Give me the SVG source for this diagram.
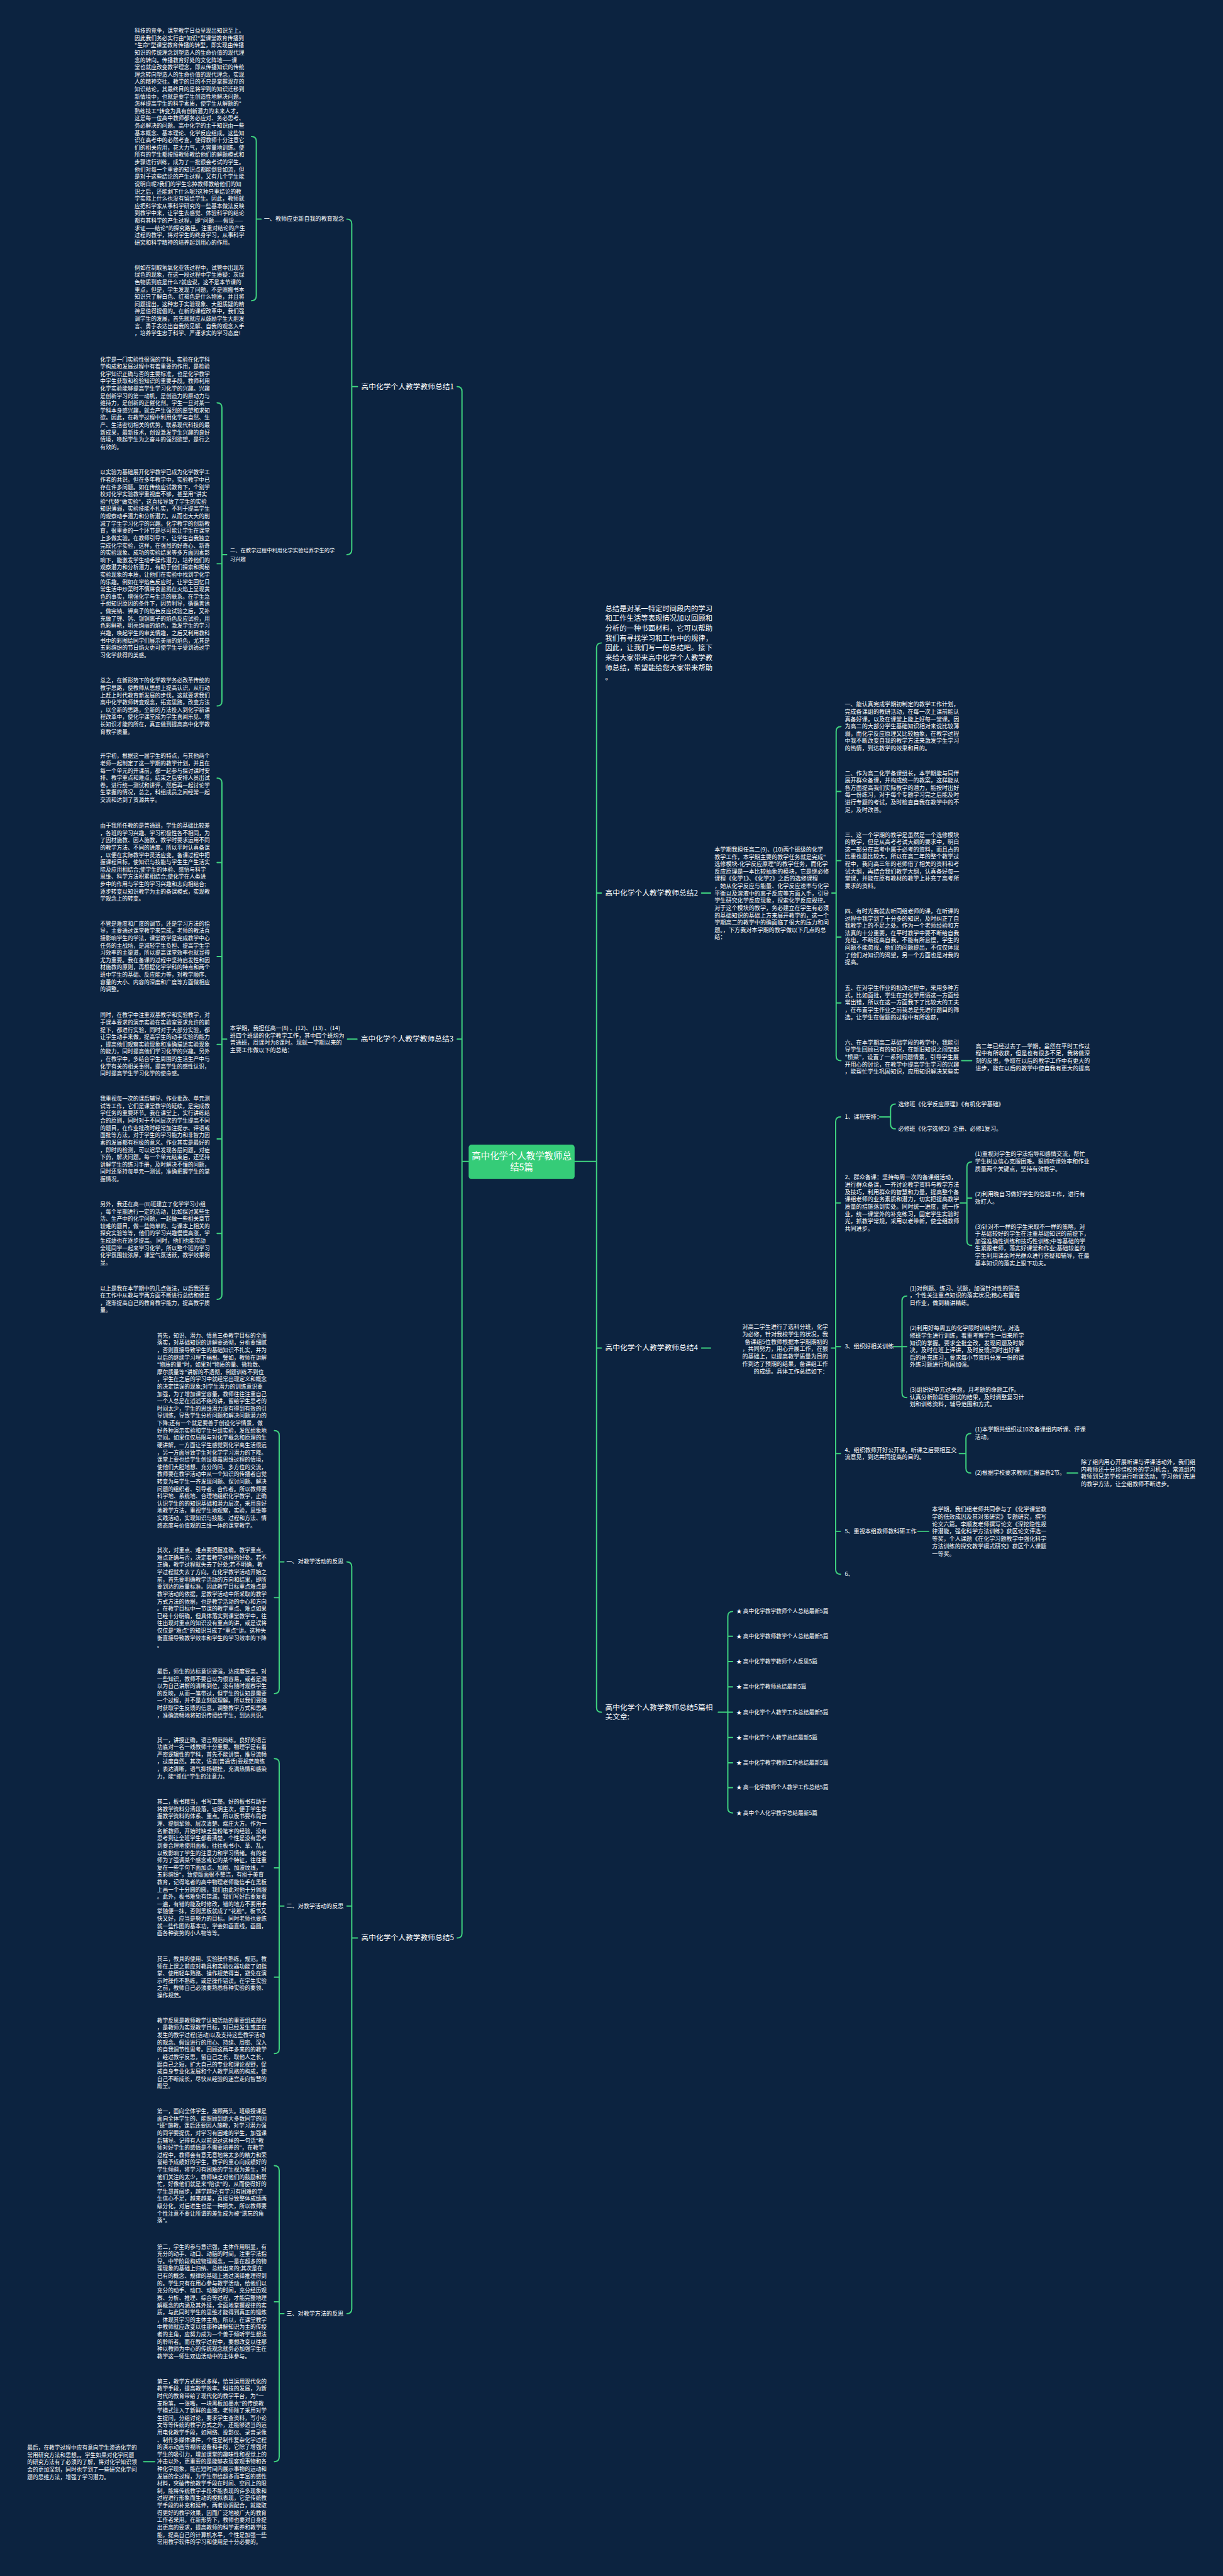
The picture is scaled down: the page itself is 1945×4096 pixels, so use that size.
<svg xmlns="http://www.w3.org/2000/svg" width="1945" height="4096" viewBox="0 0 1945 4096">
<style>
text{font-family:"Noto Sans CJK SC","Noto Sans",sans-serif;fill:#ffffff}
.p{font-size:11.5px}
.r{font-size:12px}
.b{font-size:15.5px}
.s{font-size:12px}
.i{font-size:15px}
.k{font-size:11.5px}
.c{font-size:19px;fill:#ffffff}
.ln{fill:none;stroke:#3fd27f;stroke-width:2.6;stroke-linecap:round}
</style>
<rect width="1945" height="4096" fill="#0c2340"/>
<g transform="scale(0.759)">
<g id="connectors">
<path class="ln" d="M958,810 Q968,810 968,820 V4050 Q968,4060 958,4060 M958,2177 H968 M968,2433 H982"/>
<path class="ln" d="M727,459 Q737,459 737,469 V1152 Q737,1162 727,1162 M737,810 H749"/>
<path class="ln" d="M527,286 Q537,286 537,296 V620 Q537,630 527,630 M537,459 H547"/>
<path class="ln" d="M455,844 Q465,844 465,854 V1469 Q465,1479 455,1479 M455,1181 H465 M465,1162 H475"/>
<path class="ln" d="M455,1630 Q465,1630 465,1640 V2712 Q465,2722 455,2722 M455,1807 H465 M455,2004 H465 M455,2188 H465 M455,2386 H465 M455,2584 H465 M465,2177 H475 M728,2177 H748"/>
<path class="ln" d="M727,3272 Q737,3272 737,3282 V4837 Q737,4847 727,4847 M727,3993 H737 M737,4060 H749"/>
<path class="ln" d="M575,2997 Q585,2997 585,3007 V3538 Q585,3548 575,3548 M575,3347 H585 M585,3272 H595"/>
<path class="ln" d="M575,3684 Q585,3684 585,3694 V4292 Q585,4302 575,4302 M575,3913 H585 M575,4142 H585 M585,3993 H595"/>
<path class="ln" d="M575,4537 Q585,4537 585,4547 V5147 Q585,5157 575,5157 M575,4822 H585 M585,4847 H595 M301,5157 H324"/>
<path class="ln" d="M1260,1347 Q1250,1347 1250,1357 V3577 Q1250,3587 1260,3587 M1250,1871 H1260 M1250,2824 H1260 M1204,2433 H1250"/>
<path class="ln" d="M1470,1871 H1489 M1743,1871 H1752 M1762,1522 Q1752,1522 1752,1532 V2212 Q1752,2222 1762,2222 M1752,1658 H1762 M1752,1803 H1762 M1752,1963 H1762 M1752,2101 H1762 M2015,2222 H2036"/>
<path class="ln" d="M1470,2824 H1489 M1742,2824 H1751 M1761,2340 Q1751,2340 1751,2350 V3288 Q1751,3298 1761,3298 M1751,2520 H1761 M1751,2821 H1761 M1751,3045 H1761 M1751,3208 H1761"/>
<path class="ln" d="M1843,2340 H1866 M1876,2313 Q1866,2313 1866,2323 V2355 Q1866,2365 1876,2365"/>
<path class="ln" d="M2012,2520 H2026 M2036,2434 Q2026,2434 2026,2444 V2599 Q2026,2609 2036,2609 M2026,2510 H2036"/>
<path class="ln" d="M1872,2821 H1890 M1900,2715 Q1890,2715 1890,2725 V2918 Q1890,2928 1900,2928 M1890,2821 H1900"/>
<path class="ln" d="M2010,3045 H2024 M2034,3003 Q2024,3003 2024,3013 V3076 Q2024,3086 2034,3086 M2236,3086 H2258"/>
<path class="ln" d="M1923,3208 H1946"/>
<path class="ln" d="M1505,3587 H1525 M1535,3376 Q1525,3376 1525,3386 V3788 Q1525,3798 1535,3798 M1525,3428 H1535 M1525,3481 H1535 M1525,3534 H1535 M1525,3587 H1535 M1525,3640 H1535 M1525,3693 H1535 M1525,3745 H1535"/>
</g>

<g id="center">
<rect x="982" y="2398" width="222" height="72" rx="6" fill="#35cc78"/>
<text class="c" x="1093" y="2428" text-anchor="middle"><tspan x="1093">高中化学个人教学教师总</tspan><tspan x="1093" dy="24">结5篇</tspan></text>
</g>

<g id="intro">
<text class="i" x="1268" y="1280"><tspan x="1268">总结是对某一特定时间段内的学习</tspan><tspan x="1268" dy="20.7">和工作生活等表现情况加以回顾和</tspan><tspan x="1268" dy="20.7">分析的一种书面材料，它可以帮助</tspan><tspan x="1268" dy="20.7">我们有寻找学习和工作中的规律，</tspan><tspan x="1268" dy="20.7">因此，让我们写一份总结吧。接下</tspan><tspan x="1268" dy="20.7">来给大家带来高中化学个人教学教</tspan><tspan x="1268" dy="20.7">师总结，希望能给您大家带来帮助</tspan><tspan x="1268" dy="20.7">。</tspan></text>
</g>

<g id="branch1">
<text class="b" x="757" y="815">高中化学个人教学教师总结1</text>
</g>
<g id="b1-sub1">
<text class="s" x="553" y="463">一、教师应更新自我的教育观念</text>
</g>
<g id="b1-sub1-a">
<text class="p" x="282" y="68.6"><tspan x="282">科技的竞争，课堂教学日益呈现出知识至上。</tspan><tspan x="282" dy="15.3">因此我们务必实行由"知识"型课堂教育传播到</tspan><tspan x="282" dy="15.3">"生命"型课堂教育传播的转型，即实现由传播</tspan><tspan x="282" dy="15.3">知识的传统理念到塑造人的生命价值的现代理</tspan><tspan x="282" dy="15.3">念的转向。传播教育好处的文化阵地——课</tspan><tspan x="282" dy="15.3">堂也就应改变教学理念，即从传播知识的传统</tspan><tspan x="282" dy="15.3">理念转向塑造人的生命价值的现代理念，实现</tspan><tspan x="282" dy="15.3">人的精神交往。教学的目的不只是掌握现存的</tspan><tspan x="282" dy="15.3">知识结论，其最终目的是将学到的知识迁移到</tspan><tspan x="282" dy="15.3">新情境中，也就是要学生创造性地解决问题。</tspan><tspan x="282" dy="15.3">怎样提高学生的科学素质，使学生从解题的"</tspan><tspan x="282" dy="15.3">熟练技工"转变为具有创新潜力的未来人才，</tspan><tspan x="282" dy="15.3">这是每一位高中教师都务必应对、务必思考、</tspan><tspan x="282" dy="15.3">务必解决的问题。高中化学的主干知识由一些</tspan><tspan x="282" dy="15.3">基本概念、基本理论、化学反应组成。这些知</tspan><tspan x="282" dy="15.3">识在高考中的必然考查，使得教师十分注意它</tspan><tspan x="282" dy="15.3">们的相关应用，花大力气，大容量地训练。使</tspan><tspan x="282" dy="15.3">所有的学生都按照教师教给他们的解题模式和</tspan><tspan x="282" dy="15.3">步骤进行训练，成为了一批很会考试的学生。</tspan><tspan x="282" dy="15.3">他们对每一个重要的知识点都能倒背如流，但</tspan><tspan x="282" dy="15.3">是对于这些结论的产生过程，又有几个学生能</tspan><tspan x="282" dy="15.3">说明白呢?我们的学生忘掉教师教给他们的知</tspan><tspan x="282" dy="15.3">识之后，还能剩下什么呢?这种只重结论的教</tspan><tspan x="282" dy="15.3">学实际上什么也没有留给学生。因此，教师就</tspan><tspan x="282" dy="15.3">应把科学家从事科学研究的一些基本做法反映</tspan><tspan x="282" dy="15.3">到教学中来，让学生去感觉、体验科学的结论</tspan><tspan x="282" dy="15.3">都有其科学的产生过程，即"问题——假设——</tspan><tspan x="282" dy="15.3">求证——结论"的探究路径。注重对结论的产生</tspan><tspan x="282" dy="15.3">过程的教学，将对学生的终身学习，从事科学</tspan><tspan x="282" dy="15.3">研究和科学精神的培养起到用心的作用。</tspan></text>
</g>
<g id="b1-sub1-b">
<text class="p" x="282" y="565"><tspan x="282">例如在制取氢氧化亚铁过程中，试管中出现灰</tspan><tspan x="282" dy="15.3">绿色的现象，在这一段过程中学生质疑：灰绿</tspan><tspan x="282" dy="15.3">色物质到底是什么?就应说，这不是本节课的</tspan><tspan x="282" dy="15.3">重点，但是，学生发现了问题，不是照搬书本</tspan><tspan x="282" dy="15.3">知识只了解白色、红褐色是什么物质，并且将</tspan><tspan x="282" dy="15.3">问题提出，这种忠于实验现象、大胆质疑的精</tspan><tspan x="282" dy="15.3">神是值得提倡的。在新的课程改革中，我们强</tspan><tspan x="282" dy="15.3">调学生的发展，首先就就应从鼓励学生大胆发</tspan><tspan x="282" dy="15.3">言、勇于表达出自我的见解、自我的观念入手</tspan><tspan x="282" dy="15.3">，培养学生忠于科学、严谨求实的学习态度!</tspan></text>
</g>
<g id="b1-sub2">
<text class="s" x="482" y="1157" style="font-size:11px"><tspan x="482">二、在教学过程中利用化学实验培养学生的学</tspan><tspan x="482" dy="18">习兴趣</tspan></text>
</g>
<g id="b1-sub2-a">
<text class="p" x="210" y="757"><tspan x="210">化学是一门实验性很强的学科，实验在化学科</tspan><tspan x="210" dy="15.3">学构成和发展过程中有着重要的作用，是检验</tspan><tspan x="210" dy="15.3">化学知识正确与否的主要标准，也是化学教学</tspan><tspan x="210" dy="15.3">中学生获取和检验知识的重要手段。教师利用</tspan><tspan x="210" dy="15.3">化学实验能够提高学生学习化学的兴趣。兴趣</tspan><tspan x="210" dy="15.3">是创新学习的第一动机，是创造力的原动力与</tspan><tspan x="210" dy="15.3">维持力，是创新的正催化剂。学生一旦对某一</tspan><tspan x="210" dy="15.3">学科本身感兴趣，就会产生强烈的愿望和求知</tspan><tspan x="210" dy="15.3">欲。因此，在教学过程中利用化学与自然、生</tspan><tspan x="210" dy="15.3">产、生活密切相关的优势，联系现代科技的最</tspan><tspan x="210" dy="15.3">新成果，最新技术，创设激发学生兴趣的良好</tspan><tspan x="210" dy="15.3">情境，唤起学生为之奋斗的强烈欲望，是行之</tspan><tspan x="210" dy="15.3">有效的。</tspan></text>
</g>
<g id="b1-sub2-b">
<text class="p" x="210" y="994"><tspan x="210">以实验为基础展开化学教学已成为化学教学工</tspan><tspan x="210" dy="15.3">作者的共识。但在多年教学中，实验教学中已</tspan><tspan x="210" dy="15.3">存在许多问题。如在传统应试教育下，个别学</tspan><tspan x="210" dy="15.3">校对化学实验教学重视度不够，甚至用"讲实</tspan><tspan x="210" dy="15.3">验"代替"做实验"，这直接导致了学生的实验</tspan><tspan x="210" dy="15.3">知识薄弱，实验技能不扎实，不利于提高学生</tspan><tspan x="210" dy="15.3">的观察动手潜力和分析潜力。从而也大大的削</tspan><tspan x="210" dy="15.3">减了学生学习化学的兴趣。化学教学的创新教</tspan><tspan x="210" dy="15.3">育，很重要的一个环节是尽可能让学生在课堂</tspan><tspan x="210" dy="15.3">上多做实验。在教师引导下，让学生自我独立</tspan><tspan x="210" dy="15.3">完成化学实验，这样，在强烈的好奇心、新奇</tspan><tspan x="210" dy="15.3">的实验现象、成功的实验结果等多方面因素影</tspan><tspan x="210" dy="15.3">响下，能激发学生动手操作潜力，培养他们的</tspan><tspan x="210" dy="15.3">观察潜力和分析潜力，有助于他们探索和揭秘</tspan><tspan x="210" dy="15.3">实验现象的本质，让他们在实验中找到学化学</tspan><tspan x="210" dy="15.3">的乐趣。例如在学焰色反应时，让学生回忆日</tspan><tspan x="210" dy="15.3">常生活中炒菜时不慎将食盐溅在火焰上呈现黄</tspan><tspan x="210" dy="15.3">色的事实，增强化学与生活的联系。在学生急</tspan><tspan x="210" dy="15.3">于想知识原因的条件下，因势利导，循循善诱</tspan><tspan x="210" dy="15.3">。做完钠、钾离子的焰色反应试验之后，又补</tspan><tspan x="210" dy="15.3">充做了锂、钙、钡铜离子的焰色反应试验，用</tspan><tspan x="210" dy="15.3">色彩鲜艳，明亮绚丽的焰色，激发学生的学习</tspan><tspan x="210" dy="15.3">兴趣，唤起学生的审美情趣，之后又利用教科</tspan><tspan x="210" dy="15.3">书中的彩图给同学们展示美丽的焰色，尤其是</tspan><tspan x="210" dy="15.3">五彩缤纷的节日焰火更可使学生享受到透过学</tspan><tspan x="210" dy="15.3">习化学获得的美感。</tspan></text>
</g>
<g id="b1-sub2-c">
<text class="p" x="210" y="1430"><tspan x="210">总之，在新形势下的化学教学务必改革传统的</tspan><tspan x="210" dy="15.3">教学思路，使教师从思想上提高认识，从行动</tspan><tspan x="210" dy="15.3">上赶上时代教育新发展的步伐，这就要求我们</tspan><tspan x="210" dy="15.3">高中化学教师转变观念，拓宽思路，改变方法</tspan><tspan x="210" dy="15.3">，以全新的思路，全新的方法投入到化学新课</tspan><tspan x="210" dy="15.3">程改革中，使化学课堂成为学生喜闻乐见、增</tspan><tspan x="210" dy="15.3">长知识才能的所在，真正做到提高高中化学教</tspan><tspan x="210" dy="15.3">育教学质量。</tspan></text>
</g>

<g id="branch3">
<text class="b" x="756" y="2182">高中化学个人教学教师总结3</text>
</g>
<g id="b3-intro">
<text class="r" x="482" y="2158"><tspan x="482">本学期，我担任高一(8) 、(12)、 (13) 、(14)</tspan><tspan x="482" dy="15.5">班四个班级的化学教学工作，其中四个班均为</tspan><tspan x="482" dy="15.5">普通班，周课时为8课时。现就一学期以来的</tspan><tspan x="482" dy="15.5">主要工作做以下的总结：</tspan></text>
</g>
<g id="b3-a">
<text class="p" x="210" y="1588"><tspan x="210">开学初，根据这一届学生的特点，与其他两个</tspan><tspan x="210" dy="15.3">老师一起制定了这一学期的教学计划，并且在</tspan><tspan x="210" dy="15.3">每一个单元的开课前，都一起参与探讨课时安</tspan><tspan x="210" dy="15.3">排、教学重点和难点，结束之后安排人员出试</tspan><tspan x="210" dy="15.3">卷，进行统一测试和讲评，然后再一起讨论学</tspan><tspan x="210" dy="15.3">生掌握的情况，总之，科组成员之间经常一起</tspan><tspan x="210" dy="15.3">交流和达到了资源共享。</tspan></text>
</g>
<g id="b3-b">
<text class="p" x="210" y="1734"><tspan x="210">由于我所任教的是普通班，学生的基础比较差</tspan><tspan x="210" dy="15.3">，各班的学习兴趣、学习积极性各不相同，为</tspan><tspan x="210" dy="15.3">了因材施教、因人施教，教学时要求运用不同</tspan><tspan x="210" dy="15.3">的教学方法、不同的进度。所以平时认真备课</tspan><tspan x="210" dy="15.3">，以便在实际教学中灵活应变。备课过程中把</tspan><tspan x="210" dy="15.3">握课程目标，使知识与技能与学生生产生活实</tspan><tspan x="210" dy="15.3">际及应用相结合;使学生的体验、感悟与科学</tspan><tspan x="210" dy="15.3">思维、科学方法积累相结合;使化学在人类进</tspan><tspan x="210" dy="15.3">步中的作用与学生的学习兴趣和志向相结合;</tspan><tspan x="210" dy="15.3">逐步转变以知识教学为主的备课模式，实现教</tspan><tspan x="210" dy="15.3">学观念上的转变。</tspan></text>
</g>
<g id="b3-c">
<text class="p" x="210" y="1939"><tspan x="210">不管是难度和广度的调节，还是学习方法的指</tspan><tspan x="210" dy="15.3">导，主要通过课堂教学来完成，老师的教法直</tspan><tspan x="210" dy="15.3">接影响学生的学法，课堂教学是完成教学中心</tspan><tspan x="210" dy="15.3">任务的主战场，是减轻学生负担、提高学生学</tspan><tspan x="210" dy="15.3">习效率的主渠道，所以提高课堂效率也就显得</tspan><tspan x="210" dy="15.3">尤为重要。我在备课的过程中坚持启发性和因</tspan><tspan x="210" dy="15.3">材施教的原则，再根据化学学科的特点和两个</tspan><tspan x="210" dy="15.3">班中学生的基础、反应能力等，对教学顺序、</tspan><tspan x="210" dy="15.3">容量的大小、内容的深度和广度等方面做相应</tspan><tspan x="210" dy="15.3">的调整。</tspan></text>
</g>
<g id="b3-d">
<text class="p" x="210" y="2131"><tspan x="210">同时，在教学中注重双基教学和实验教学，对</tspan><tspan x="210" dy="15.3">于课本要求的演示实验在实验室要求允许的前</tspan><tspan x="210" dy="15.3">提下，都进行实验，同时对于大部分实验，都</tspan><tspan x="210" dy="15.3">让学生动手来做，提高学生的动手实验的能力</tspan><tspan x="210" dy="15.3">，提高他们观察实验现象和准确描述实验现象</tspan><tspan x="210" dy="15.3">的能力，同时提高他们学习化学的兴趣。另外</tspan><tspan x="210" dy="15.3">，在教学中，多结合学生周围的生活生产中与</tspan><tspan x="210" dy="15.3">化学有关的相关事例，提高学生的感性认识，</tspan><tspan x="210" dy="15.3">同时提高学生学习化学的使命感。</tspan></text>
</g>
<g id="b3-e">
<text class="p" x="210" y="2306"><tspan x="210">我重视每一次的课后辅导、作业批改、单元测</tspan><tspan x="210" dy="15.3">试等工作，它们是课堂教学的延续，是完成教</tspan><tspan x="210" dy="15.3">学任务的重要环节。我在课堂上，实行讲练结</tspan><tspan x="210" dy="15.3">合的原则，同时对于不同层次的学生提高不同</tspan><tspan x="210" dy="15.3">的题目，在作业批改时经常加注提示、评语或</tspan><tspan x="210" dy="15.3">面批等方法，对于学生的学习能力和非智力因</tspan><tspan x="210" dy="15.3">素的发展都有积极的意义。作业其实是最好的</tspan><tspan x="210" dy="15.3">，即时的检测，可以迟早发现各层问题，对症</tspan><tspan x="210" dy="15.3">下药，解决问题。每一个单元结束后，还坚持</tspan><tspan x="210" dy="15.3">讲解学生的练习手册，及时解决不懂的问题，</tspan><tspan x="210" dy="15.3">同时还坚持每单元一测试，准确把握学生的掌</tspan><tspan x="210" dy="15.3">握情况。</tspan></text>
</g>
<g id="b3-f">
<text class="p" x="210" y="2527"><tspan x="210">另外，我还在高一(8)班建立了化学学习小组</tspan><tspan x="210" dy="15.3">，每个星期进行一定的活动，比如探讨某些生</tspan><tspan x="210" dy="15.3">活、生产中的化学问题，一起做一些相关章节</tspan><tspan x="210" dy="15.3">较难的题目，做一些简单的、与课本上相关的</tspan><tspan x="210" dy="15.3">探究实验等等，他们的学习兴趣慢慢高涨，学</tspan><tspan x="210" dy="15.3">生成绩也在逐步提高。 同时，他们也能带动</tspan><tspan x="210" dy="15.3">全班同学一起来学习化学，所以整个班的学习</tspan><tspan x="210" dy="15.3">化学氛围较浓厚，课堂气氛活跃，教学效果明</tspan><tspan x="210" dy="15.3">显。</tspan></text>
</g>
<g id="b3-g">
<text class="p" x="210" y="2703"><tspan x="210">以上是我在本学期中的几点做法，以后我还要</tspan><tspan x="210" dy="15.3">在工作中从教与学两方面不断进行总结和修正</tspan><tspan x="210" dy="15.3">，逐渐提高自己的教育教学能力，提高教学质</tspan><tspan x="210" dy="15.3">量。</tspan></text>
</g>

<g id="branch5">
<text class="b" x="757" y="4065">高中化学个人教学教师总结5</text>
</g>
<g id="b5-sub1"><text class="s" x="600" y="3276">一、对教学活动的反思</text></g>
<g id="b5-sub2"><text class="s" x="600" y="3997">二、对教学活动的反思</text></g>
<g id="b5-sub3"><text class="s" x="600" y="4851">三、对教学方法的反思</text></g>
<g id="b5-a">
<text class="p" x="329" y="2802"><tspan x="329">首先，知识、潜力、情意三类教学目标的全面</tspan><tspan x="329" dy="15.3">落实，对基础知识的讲解要透彻，分析要细腻</tspan><tspan x="329" dy="15.3">，否则直接导致学生的基础知识不扎实，并为</tspan><tspan x="329" dy="15.3">以后的继续学习埋下祸根。譬如，教师在讲解</tspan><tspan x="329" dy="15.3">"物质的量"时，如果对"物质的量、微粒数、</tspan><tspan x="329" dy="15.3">摩尔质量等"讲解的不透彻，例题训练不到位</tspan><tspan x="329" dy="15.3">，学生在之后的学习中就经常出现定义和概念</tspan><tspan x="329" dy="15.3">的决定错误的现象;对学生潜力的训练意识要</tspan><tspan x="329" dy="15.3">加强，为了增加课堂容量，教师往往注重自己</tspan><tspan x="329" dy="15.3">一个人总是在滔滔不绝的讲，留给学生思考的</tspan><tspan x="329" dy="15.3">时间太少，学生的思维潜力没有得到有效的引</tspan><tspan x="329" dy="15.3">导训练，导致学生分析问题和解决问题潜力的</tspan><tspan x="329" dy="15.3">下降;还有一个就是要善于创设化学情景，做</tspan><tspan x="329" dy="15.3">好各种演示实验和学生分组实验，发挥想象地</tspan><tspan x="329" dy="15.3">空间。如果仅仅局限与对化学概念和原理的生</tspan><tspan x="329" dy="15.3">硬讲解，一方面让学生感觉到化学离生活很远</tspan><tspan x="329" dy="15.3">，另一方面导致学生对化学学习潜力的下降。</tspan><tspan x="329" dy="15.3">课堂上要也给学生创设暴露思维过程的情境，</tspan><tspan x="329" dy="15.3">使他们大胆地想、充分的问、多方位的交流，</tspan><tspan x="329" dy="15.3">教师要在教学活动中从一个知识的传播者自觉</tspan><tspan x="329" dy="15.3">转变为与学生一齐发现问题、探讨问题、解决</tspan><tspan x="329" dy="15.3">问题的组织者、引导者、合作者。所以教师要</tspan><tspan x="329" dy="15.3">科学地、系统地、合理地组织化学教学，正确</tspan><tspan x="329" dy="15.3">认识学生的的知识基础和潜力层次，采用良好</tspan><tspan x="329" dy="15.3">地教学方法，重视学生地观察，实验，思维等</tspan><tspan x="329" dy="15.3">实践活动，实现知识与技能、过程和方法、情</tspan><tspan x="329" dy="15.3">感态度与价值观的三维一体的课堂教学。</tspan></text>
</g>
<g id="b5-b">
<text class="p" x="329" y="3252"><tspan x="329">其次，对重点、难点要把握准确。教学重点、</tspan><tspan x="329" dy="15.3">难点正确与否，决定着教学过程的好处。若不</tspan><tspan x="329" dy="15.3">正确，教学过程就失去了好处;若不明确，教</tspan><tspan x="329" dy="15.3">学过程就失去了方向。在化学教学活动开始之</tspan><tspan x="329" dy="15.3">前，首先要明确教学活动的方向和结果，即所</tspan><tspan x="329" dy="15.3">要到达的质量标准。因此教学目标重点难点是</tspan><tspan x="329" dy="15.3">教学活动的依据，是教学活动中所采取的教学</tspan><tspan x="329" dy="15.3">方式方法的依据，也是教学活动的中心和方向</tspan><tspan x="329" dy="15.3">。在教学目标中一节课的教学重点、难点如果</tspan><tspan x="329" dy="15.3">已经十分明确，但具体落实到课堂教学中，往</tspan><tspan x="329" dy="15.3">往出现对重点的知识没有重点的讲，或是误将</tspan><tspan x="329" dy="15.3">仅仅是"难点"的知识当成了"重点"讲。这种失</tspan><tspan x="329" dy="15.3">衡直接导致教学效率和学生的学习效率的下降</tspan><tspan x="329" dy="15.3">。</tspan></text>
</g>
<g id="b5-c">
<text class="p" x="329" y="3506"><tspan x="329">最后，师生的达标意识要强，达成度要高。对</tspan><tspan x="329" dy="15.3">一些知识，教师不要自以为很容易，或者是满</tspan><tspan x="329" dy="15.3">以为自己讲解的清晰到位，没有随时观察学生</tspan><tspan x="329" dy="15.3">的反映，从而一笔带过，但学生的认知是需要</tspan><tspan x="329" dy="15.3">一个过程，并不是立刻就理解。所以我们要随</tspan><tspan x="329" dy="15.3">时获取学生反馈的信息，调整教学方式和思路</tspan><tspan x="329" dy="15.3">，准确流畅地将知识传授给学生，到达共识。</tspan></text>
</g>
<g id="b5-d">
<text class="p" x="329" y="3649"><tspan x="329">其一，讲授正确，语言规范简练。良好的语言</tspan><tspan x="329" dy="15.3">功底对一名一线教师十分重要。物理学是有着</tspan><tspan x="329" dy="15.3">严密逻辑性的学科，首先不能讲错，推导流畅</tspan><tspan x="329" dy="15.3">，过度自然。其次，语言(普通话)要规范简练</tspan><tspan x="329" dy="15.3">，表达清晰，语气抑扬顿挫，充满热情和感染</tspan><tspan x="329" dy="15.3">力，能"抓住"学生的注意力。</tspan></text>
</g>
<g id="b5-e">
<text class="p" x="329" y="3779"><tspan x="329">其二，板书精当，书写工整。好的板书有助于</tspan><tspan x="329" dy="15.3">将教学资料分清段落，证明主次，便于学生掌</tspan><tspan x="329" dy="15.3">握教学资料的体系、重点。所以板书要布局合</tspan><tspan x="329" dy="15.3">理、提纲挈领、层次清楚、端庄大方。作为一</tspan><tspan x="329" dy="15.3">名新教师，开始时缺乏些粉笔字的经验，没有</tspan><tspan x="329" dy="15.3">思考到让全班学生都看清楚，个性是没有思考</tspan><tspan x="329" dy="15.3">到要合理地使用面板，往往板书小、草、乱，</tspan><tspan x="329" dy="15.3">以致影响了学生的注意力和学习情绪。有的老</tspan><tspan x="329" dy="15.3">师为了强调某个感念或它的某个特征，往往重</tspan><tspan x="329" dy="15.3">复在一些字句下面加点、加圈、加波纹线，"</tspan><tspan x="329" dy="15.3">五彩缤纷"，致使版面很不整洁，有损于美育</tspan><tspan x="329" dy="15.3">教育，记得笔者的高中物理老师能信手在黑板</tspan><tspan x="329" dy="15.3">上画一个十分圆的圆，我们由此对他十分佩服</tspan><tspan x="329" dy="15.3">。此外，板书难免有错漏，我们写好后要复看</tspan><tspan x="329" dy="15.3">一遍，有错的能及时修改，错的地方不要用手</tspan><tspan x="329" dy="15.3">掌随便一抹，否则黑板就成了"花脸"。板书又</tspan><tspan x="329" dy="15.3">快又好，应当是努力的目标。同时老师也要练</tspan><tspan x="329" dy="15.3">就一些作图的基本功，学会如画直线，画圆，</tspan><tspan x="329" dy="15.3">画各种姿势的小人物等等。</tspan></text>
</g>
<g id="b5-f">
<text class="p" x="329" y="4108"><tspan x="329">其三，教具的使用、实验操作熟练，规范。教</tspan><tspan x="329" dy="15.3">师在上课之前应对教具和实验仪器功能了如指</tspan><tspan x="329" dy="15.3">掌、使用轻车熟路、操作规范得当，避免在演</tspan><tspan x="329" dy="15.3">示时操作不熟练，或是操作错误。在学生实验</tspan><tspan x="329" dy="15.3">之前，教师自己必须要熟悉各种实验的要领、</tspan><tspan x="329" dy="15.3">操作规范。</tspan></text>
</g>
<g id="b5-g">
<text class="p" x="329" y="4237"><tspan x="329">教学反思是教师教学认知活动的重要组成部分</tspan><tspan x="329" dy="15.3">，是教师为实现教学目标，对已经发生或正在</tspan><tspan x="329" dy="15.3">发生的教学过程(活动)以及支持这些教学活动</tspan><tspan x="329" dy="15.3">的观念、假设进行的用心、持续、周密、深入</tspan><tspan x="329" dy="15.3">的自我调节性思考。回顾这两年多来的的教学</tspan><tspan x="329" dy="15.3">，经过教学反思，留自己之长，取他人之长，</tspan><tspan x="329" dy="15.3">踢自己之短，扩大自己的专业和理论视野，促</tspan><tspan x="329" dy="15.3">成自身专业化发展和个人教学风格的构成，使</tspan><tspan x="329" dy="15.3">自己不断成长，尽快从经验的迷宫走向智慧的</tspan><tspan x="329" dy="15.3">殿堂。</tspan></text>
</g>
<g id="b5-h">
<text class="p" x="329" y="4427"><tspan x="329">第一，面向全体学生，兼顾两头。班级授课是</tspan><tspan x="329" dy="15.3">面向全体学生的、能照顾到绝大多数同学的因</tspan><tspan x="329" dy="15.3">"班"施教，课后还要因人施教，对学习潜力强</tspan><tspan x="329" dy="15.3">的同学要提优，对学习有困难的学生，加强课</tspan><tspan x="329" dy="15.3">后辅导。记得有人以前说过这样的一句话"教</tspan><tspan x="329" dy="15.3">师对好学生的感情是不需要培养的"，在教学</tspan><tspan x="329" dy="15.3">过程中，教师会有意无意地将太多的精力和荣</tspan><tspan x="329" dy="15.3">誉给予成绩好的学生，教学的重心向成绩好的</tspan><tspan x="329" dy="15.3">学生倾斜，将学习有困难的学生视为差生，对</tspan><tspan x="329" dy="15.3">他们关注的太少，教师缺乏对他们的鼓励和帮</tspan><tspan x="329" dy="15.3">忙，好像他们就是来"陪读"的，从而使得好的</tspan><tspan x="329" dy="15.3">学生昂首阔步，越学越好;有学习有困难的学</tspan><tspan x="329" dy="15.3">生信心不足，越来越差，直接导致整体成绩两</tspan><tspan x="329" dy="15.3">级分化，对后进生也是一种损失，所以教师要</tspan><tspan x="329" dy="15.3">个性注意不要让所谓的差生成为被"遗忘的角</tspan><tspan x="329" dy="15.3">落"。</tspan></text>
</g>
<g id="b5-i">
<text class="p" x="329" y="4711"><tspan x="329">第二，学生的参与意识强，主体作用明显，有</tspan><tspan x="329" dy="15.3">充分的动手、动口、动脑的时间。注重学法指</tspan><tspan x="329" dy="15.3">导。中学阶段构成物理概念，一是在超多的物</tspan><tspan x="329" dy="15.3">理现象的基础上归纳、总结出来的;其次是在</tspan><tspan x="329" dy="15.3">已有的概念、规律的基础上透过演绎推理得到</tspan><tspan x="329" dy="15.3">的。学生只有在用心参与教学活动，给他们以</tspan><tspan x="329" dy="15.3">充分的动手、动口、动脑的时间，充分经历观</tspan><tspan x="329" dy="15.3">察、分析、推理、综合等过程，才能完整地理</tspan><tspan x="329" dy="15.3">解概念的内涵及其外延，全面地掌握规律的实</tspan><tspan x="329" dy="15.3">质，与此同时学生的思维才能得到真正的锻炼</tspan><tspan x="329" dy="15.3">，体现其学习的主体主角。所以，在课堂教学</tspan><tspan x="329" dy="15.3">中教师就应改变以往那种讲解知识为主的传授</tspan><tspan x="329" dy="15.3">者的主角，应努力成为一个善于倾听学生想法</tspan><tspan x="329" dy="15.3">的聆听者。而在教学过程中，要想改变以往那</tspan><tspan x="329" dy="15.3">种以教师为中心的传统观念就务必加强学生在</tspan><tspan x="329" dy="15.3">教学这一师生双边活动中的主体参与。</tspan></text>
</g>
<g id="b5-j">
<text class="p" x="329" y="4993"><tspan x="329">第三，教学方式形式多样，恰当运用现代化的</tspan><tspan x="329" dy="15.3">教学手段，提高教学效率。科技的发展，为新</tspan><tspan x="329" dy="15.3">时代的教育带给了现代化的教学平台，为"一</tspan><tspan x="329" dy="15.3">支粉笔，一张嘴，一块黑板加墨水"的传统教</tspan><tspan x="329" dy="15.3">学模式注入了新鲜的血液。老师除了采用对学</tspan><tspan x="329" dy="15.3">生提问，分组讨论，要求学生查资料，写小论</tspan><tspan x="329" dy="15.3">文等等传统的教学方式之外，还能够适当的运</tspan><tspan x="329" dy="15.3">用电化教学手段，如网络、投影仪、录音录像</tspan><tspan x="329" dy="15.3">、制作多媒体课件，个性是制作复杂化学过程</tspan><tspan x="329" dy="15.3">的演示动画等视听设备和手段，它除了增强对</tspan><tspan x="329" dy="15.3">学生的吸引力，增加课堂的趣味性和视觉上的</tspan><tspan x="329" dy="15.3">冲击以外，更重要的是能够表现客观事物和各</tspan><tspan x="329" dy="15.3">种化学现象，能在短时间内展示事物的运动和</tspan><tspan x="329" dy="15.3">发展的全过程，为学生带给超多而丰富的感性</tspan><tspan x="329" dy="15.3">材料，突破传统教学手段在时间、空间上的限</tspan><tspan x="329" dy="15.3">制，能将传统教学手段不能表现的许多现象和</tspan><tspan x="329" dy="15.3">过程进行形象而生动的模拟表现，它是传统教</tspan><tspan x="329" dy="15.3">学手段的补充和延伸，两者协调配合，就能取</tspan><tspan x="329" dy="15.3">得更好的教学效果，因而广泛地被广大的教育</tspan><tspan x="329" dy="15.3">工作者采用。在新形势下，教师也要对自身提</tspan><tspan x="329" dy="15.3">出更高的要求，提高教师的科学素养和教学技</tspan><tspan x="329" dy="15.3">能，提高自己的计算机水平，个性是加强一些</tspan><tspan x="329" dy="15.3">常用教学软件的学习和使用是十分必要的。</tspan></text>
</g>
<g id="b5-k">
<text class="p" x="57" y="5132"><tspan x="57">最后，在教学过程中应有意向学生渗透化学的</tspan><tspan x="57" dy="15.3">常用研究方法和思想。。学生如果对化学问题</tspan><tspan x="57" dy="15.3">的研究方法有了必须的了解，将对化学知识领</tspan><tspan x="57" dy="15.3">会的更加深刻，同时也学到了一些研究化学问</tspan><tspan x="57" dy="15.3">题的思维方法，增强了学习潜力。</tspan></text>
</g>

<g id="branch2">
<text class="b" x="1268" y="1876">高中化学个人教学教师总结2</text>
</g>
<g id="b2-intro">
<text class="r" x="1497" y="1784"><tspan x="1497">本学期我担任高二(9)、(10)两个班级的化学</tspan><tspan x="1497" dy="15.3">教学工作，本学期主要的教学任务就是完成"</tspan><tspan x="1497" dy="15.3">选修模块-化学反应原理"的教学任务，而化学</tspan><tspan x="1497" dy="15.3">反应原理是一本比较抽象的模块，它是继必修</tspan><tspan x="1497" dy="15.3">课程《化学1》、《化学2》之后的选修课程</tspan><tspan x="1497" dy="15.3">，她从化学反应与能量、化学反应速率与化学</tspan><tspan x="1497" dy="15.3">平衡以及溶液中的离子反应等方面入手，引导</tspan><tspan x="1497" dy="15.3">学生研究化学反应现象，探索化学反应规律。</tspan><tspan x="1497" dy="15.3">对于这个模块的教学，务必建立在学生有必须</tspan><tspan x="1497" dy="15.3">的基础知识的基础上方来展开教学的，这一个</tspan><tspan x="1497" dy="15.3">学期高二的教学中的确面临了很大的压力和问</tspan><tspan x="1497" dy="15.3">题。，下方我对本学期的教学做以下几点的总</tspan><tspan x="1497" dy="15.3">结：</tspan></text>
</g>
<g id="b2-1">
<text class="r" x="1770" y="1480"><tspan x="1770">一、能认真完成学期初制定的教学工作计划，</tspan><tspan x="1770" dy="15.3">完成备课组的教研活动，在每一次上课前能认</tspan><tspan x="1770" dy="15.3">真备好课，以及在课堂上能上好每一堂课。因</tspan><tspan x="1770" dy="15.3">为高二的大部分学生基础知识相对来说比较薄</tspan><tspan x="1770" dy="15.3">弱，而化学反应原理又比较抽象，在教学过程</tspan><tspan x="1770" dy="15.3">中我不断改变自我的教学方法来激发学生学习</tspan><tspan x="1770" dy="15.3">的热情，到达教学的效果和目的。</tspan></text>
</g>
<g id="b2-2">
<text class="r" x="1770" y="1624"><tspan x="1770">二、作为高二化学备课组长，本学期能与同伴</tspan><tspan x="1770" dy="15.3">展开群众备课，并构成统一的教案，这样能从</tspan><tspan x="1770" dy="15.3">各方面提高我们实际教学的潜力，能按时出好</tspan><tspan x="1770" dy="15.3">每一份练习，对于每个专题学习完之后能及时</tspan><tspan x="1770" dy="15.3">进行专题的考试，及时检查自我在教学中的不</tspan><tspan x="1770" dy="15.3">足，及时改善。</tspan></text>
</g>
<g id="b2-3">
<text class="r" x="1770" y="1753"><tspan x="1770">三、这一个学期的教学是虽然是一个选修模块</tspan><tspan x="1770" dy="15.3">的教学，但是从高考考试大纲的要求中，明白</tspan><tspan x="1770" dy="15.3">这一部分在高考中属于必考的资料，而且占的</tspan><tspan x="1770" dy="15.3">比重也是比较大，所以在高二年的整个教学过</tspan><tspan x="1770" dy="15.3">程中，我向高三年的老师借了相关的资料和考</tspan><tspan x="1770" dy="15.3">试大纲，再结合我们教学大纲，认真备好每一</tspan><tspan x="1770" dy="15.3">堂课，并能在原有教材的教学上补充了高考所</tspan><tspan x="1770" dy="15.3">要求的资料。</tspan></text>
</g>
<g id="b2-4">
<text class="r" x="1770" y="1913"><tspan x="1770">四、有时光我就去听同组老师的课，在听课的</tspan><tspan x="1770" dy="15.3">过程中我学到了十分多的知识，及时纠正了自</tspan><tspan x="1770" dy="15.3">我教学上的不足之处。作为一个老师经验和方</tspan><tspan x="1770" dy="15.3">法真的十分重要，在平时教学中要不断给自我</tspan><tspan x="1770" dy="15.3">充电，不断提高自我，不能有所怠慢，学生的</tspan><tspan x="1770" dy="15.3">问题不能忽视，他们的问题提出，不仅仅体现</tspan><tspan x="1770" dy="15.3">了他们对知识的渴望，另一个方面也是对我的</tspan><tspan x="1770" dy="15.3">提高。</tspan></text>
</g>
<g id="b2-5">
<text class="r" x="1770" y="2074"><tspan x="1770">五、在对学生作业的批改过程中，采用多种方</tspan><tspan x="1770" dy="15.3">式，比如面批，学生在对化学用语这一方面经</tspan><tspan x="1770" dy="15.3">常出错，所以在这一方面我下了比较大的工夫</tspan><tspan x="1770" dy="15.3">，在布置学生作业之前我总是先进行题目的筛</tspan><tspan x="1770" dy="15.3">选，让学生在做题的过程中有所收获，</tspan></text>
</g>
<g id="b2-6">
<text class="r" x="1770" y="2188"><tspan x="1770">六、在本学期高二基础学段的教学中，我能引</tspan><tspan x="1770" dy="15.3">导学生回顾已有的知识，在新旧知识之间架起</tspan><tspan x="1770" dy="15.3">"桥梁"，设置了一系列问题情景，引导学生展</tspan><tspan x="1770" dy="15.3">开用心的讨论，在教学中提高学生学习的兴趣</tspan><tspan x="1770" dy="15.3">，能帮忙学生巩固知识，应用知识解决某些实</tspan></text>
</g>
<g id="b2-6a">
<text class="r" x="2044" y="2196"><tspan x="2044">高二年已经过去了一学期，虽然在平时工作过</tspan><tspan x="2044" dy="15.3">程中有所收获，但是也有很多不足，我将做深</tspan><tspan x="2044" dy="15.3">刻的反思，争取在以后的教学工作中有更大的</tspan><tspan x="2044" dy="15.3">进步，能在以后的教学中使自我有更大的提高</tspan></text>
</g>

<g id="branch4">
<text class="b" x="1268" y="2829">高中化学个人教学教师总结4</text>
</g>
<g id="b4-intro">
<text class="r" x="1735" y="2784" text-anchor="end"><tspan x="1735">对高二学生进行了选科分班，化学</tspan><tspan x="1735" dy="15.5">为必修，针对我校学生的状况，我</tspan><tspan x="1735" dy="15.5">备课组5位教师根据本学期期初的</tspan><tspan x="1735" dy="15.5">，共同努力，用心开展工作，在狠</tspan><tspan x="1735" dy="15.5">的基础上，以提高教学质量为目的</tspan><tspan x="1735" dy="15.5">作到达了预期的结果，备课组工作</tspan><tspan x="1735" dy="15.5">的成绩。具体工作总结如下：</tspan></text>
</g>
<g id="b4-1">
<text class="r" x="1770" y="2344">1、课程安排：</text>
<text class="r" x="1882" y="2317">选修班《化学反应原理》《有机化学基础》</text>
<text class="r" x="1882" y="2369">必修班《化学选修2》全册、必修1复习。</text>
</g>
<g id="b4-2">
<text class="r" x="1770" y="2471"><tspan x="1770">2、群众备课：坚持每周一次的备课组活动，</tspan><tspan x="1770" dy="15.3">进行群众备课，一齐讨论教学资料与教学方法</tspan><tspan x="1770" dy="15.3">及技巧，利用群众的智慧和力量，提高整个备</tspan><tspan x="1770" dy="15.3">课组老师的业务素质和潜力，切实把提高教学</tspan><tspan x="1770" dy="15.3">质量的措施落到实处。同时统一进度，统一作</tspan><tspan x="1770" dy="15.3">业，统一课堂外的补充练习，固定学生实验时</tspan><tspan x="1770" dy="15.3">光，抓教学常规，采用以老带新，使全组教师</tspan><tspan x="1770" dy="15.3">共同进步。</tspan></text>
<text class="r" x="2043" y="2422"><tspan x="2043">(1)重视对学生的学法指导和感情交流，帮忙</tspan><tspan x="2043" dy="15.3">学生树立信心克服困难。狠抓听课效率和作业</tspan><tspan x="2043" dy="15.3">质量两个关键点，坚持有效教学。</tspan></text>
<text class="r" x="2043" y="2506"><tspan x="2043">(2)利用晚自习做好学生的答疑工作，进行有</tspan><tspan x="2043" dy="15.3">效盯人。</tspan></text>
<text class="r" x="2043" y="2574"><tspan x="2043">(3)针对不一样的学生采取不一样的策略，对</tspan><tspan x="2043" dy="15.3">于基础较好的学生在注重基础知识的前提下，</tspan><tspan x="2043" dy="15.3">加强准确性训练和技巧性训练;中等基础的学</tspan><tspan x="2043" dy="15.3">生紧跟老师，落实好课堂和作业;基础较差的</tspan><tspan x="2043" dy="15.3">学生利用课余时光群众进行答疑和辅导，在最</tspan><tspan x="2043" dy="15.3">基本知识的落实上狠下功夫。</tspan></text>
</g>
<g id="b4-3">
<text class="r" x="1770" y="2825">3、组织好相关训练</text>
<text class="r" x="1906" y="2703"><tspan x="1906">(1)对例题、练习、试题，加强针对性的筛选</tspan><tspan x="1906" dy="15.3">，个性关注重点知识的落实状况;精心布置每</tspan><tspan x="1906" dy="15.3">日作业，做到精讲精练。</tspan></text>
<text class="r" x="1906" y="2787"><tspan x="1906">(2)利用好每周五的化学限时训练时光，对选</tspan><tspan x="1906" dy="15.3">修班学生进行训练，着重考察学生一周来所学</tspan><tspan x="1906" dy="15.3">知识的掌握。要求全批全改，发现问题及时解</tspan><tspan x="1906" dy="15.3">决，及时在班上评讲，及时反馈;同时出好课</tspan><tspan x="1906" dy="15.3">后的补充练习，要求每小节资料分发一份的课</tspan><tspan x="1906" dy="15.3">外练习题进行巩固加强。</tspan></text>
<text class="r" x="1906" y="2916"><tspan x="1906">(3)组织好单元过关题，月考题的命题工作。</tspan><tspan x="1906" dy="15.3">认真分析阶段性测试的结果，及时调整复习计</tspan><tspan x="1906" dy="15.3">划和训练资料，辅导范围和方式。</tspan></text>
</g>
<g id="b4-4">
<text class="r" x="1770" y="3042"><tspan x="1770">4、组织教师开好公开课，听课之后要相互交</tspan><tspan x="1770" dy="15.3">流意见，到达共同提高的目的。</tspan></text>
<text class="r" x="2043" y="2999"><tspan x="2043">(1)本学期共组织过10次备课组内听课、评课</tspan><tspan x="2043" dy="15.3">活动。</tspan></text>
<text class="r" x="2043" y="3090">(2)根据学校要求教师汇报课各2节。</text>
<text class="r" x="2265" y="3067"><tspan x="2265">除了组内用心开展听课与评课活动外，我们组</tspan><tspan x="2265" dy="15.5">内教师还十分珍惜校外的学习机会，常派组内</tspan><tspan x="2265" dy="15.5">教师到兄弟学校进行听课活动，学习他们先进</tspan><tspan x="2265" dy="15.5">的教学方法，让全组教师不断进步。</tspan></text>
</g>
<g id="b4-5">
<text class="r" x="1770" y="3212">5、重视本组教师教科研工作</text>
<text class="r" x="1953" y="3166"><tspan x="1953">本学期，我们组老师共同参与了《化学课堂教</tspan><tspan x="1953" dy="15.5">学的低效成因及其对策研究》专题研究，撰写</tspan><tspan x="1953" dy="15.5">论文六篇。李顺友老师撰写论文《深挖隐性规</tspan><tspan x="1953" dy="15.5">律潜能，强化科学方法训练》获区论文评选一</tspan><tspan x="1953" dy="15.5">等奖，个人课题《在化学习题教学中强化科学</tspan><tspan x="1953" dy="15.5">方法训练的探究教学模式研究》获区个人课题</tspan><tspan x="1953" dy="15.5">一等奖。</tspan></text>
</g>
<g id="b4-6">
<text class="r" x="1770" y="3302">6、</text>
</g>

<g id="related">
<text class="b" x="1268" y="3582"><tspan x="1268">高中化学个人教学教师总结5篇相</tspan><tspan x="1268" dy="20">关文章:</tspan></text>
</g>
<g id="related-items">
<text class="k" x="1543" y="3380">★ 高中化学教学教师个人总结最新5篇</text>
<text class="k" x="1543" y="3432">★ 高中化学教师教学个人总结最新5篇</text>
<text class="k" x="1543" y="3485">★ 高中化学教学教师个人反思5篇</text>
<text class="k" x="1543" y="3538">★ 高中化学教师总结最新5篇</text>
<text class="k" x="1543" y="3591">★ 高中化学个人教学工作总结最新5篇</text>
<text class="k" x="1543" y="3644">★ 高中化学个人教学总结最新5篇</text>
<text class="k" x="1543" y="3697">★ 高中化学教学教师工作总结最新5篇</text>
<text class="k" x="1543" y="3749">★ 高一化学教师个人教学工作总结5篇</text>
<text class="k" x="1543" y="3802">★ 高中个人化学教学总结最新5篇</text>
</g>
</g>
</svg>
